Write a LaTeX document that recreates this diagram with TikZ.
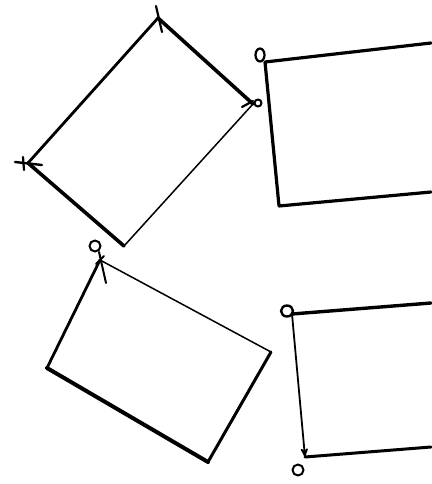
\documentclass[tikz,border=0pt]{standalone}
\usetikzlibrary{arrows}
\begin{document}
\begin{tikzpicture}[x=1pt,y=-1pt,line cap=round,line join=round]
	\useasboundingbox (0,0) rectangle (431,484);
	% first frame, tilted
	\coordinate (aT) at (158,18);
	\coordinate (aR) at (253,104);
	\coordinate (aB) at (124,246);
	\coordinate (aL) at (28,163);
	\draw[line width=3.6pt](aT) -- (aR);
	\draw[line width=2.8pt](aT) -- (aL);
	\draw[line width=3.6pt](aL) -- (aB);
	\draw[line width=1.5pt](aR) -- (aB);
	\draw[line width=2.2pt](156,6) -- (162,32);
	\draw[line width=2.4pt](15,162) -- (42,165);
	\draw[line width=2.2pt](23,157) -- (24,170);
	\draw[line width=2.2pt](242,107) -- (253,101);
	\draw[line width=2pt](258,103) circle(3.5);
	% second frame
	\coordinate (bTL) at (265,62);
	\coordinate (bTR) at (431,43);
	\coordinate (bBL) at (279,206);
	\coordinate (bBR) at (431,192);
	\draw[line width=3.2pt](bTR) -- (bTL) -- (bBL) -- (bBR);
	\draw[line width=2.2pt](260,55) ellipse(4.5 and 6.5);
	% third frame
	\coordinate (cT) at (100,260);
	\coordinate (cR) at (271,352);
	\coordinate (cB) at (208,462);
	\coordinate (cL) at (47,368);
	\draw[line width=2.8pt](cT) -- (cL);
	\draw[line width=4pt](cL) -- (cB);
	\draw[line width=3pt](cB) -- (cR);
	\draw[line width=1.5pt](cR) -- (cT);
	\draw[line width=2pt](95,246) circle(5.5);
	\draw[line width=2pt](99,252) -- (106,283);
	\draw[line width=2pt](96,264) -- (104,256);
	% fourth frame
	\coordinate (dTL) at (292,314);
	\coordinate (dTR) at (431,303);
	\coordinate (dBL) at (305,457);
	\coordinate (dBR) at (431,447);
	\draw[line width=3.4pt](dTR) -- (dTL);
	\draw[line width=1.8pt,-stealth'](dTL) -- (dBL);
	\draw[line width=3pt](dBL) -- (dBR);
	\draw[line width=2.4pt](287,311) ellipse(6 and 5.5);
	\draw[line width=2pt](298,470) circle(5.5);
\end{tikzpicture}
\end{document}
